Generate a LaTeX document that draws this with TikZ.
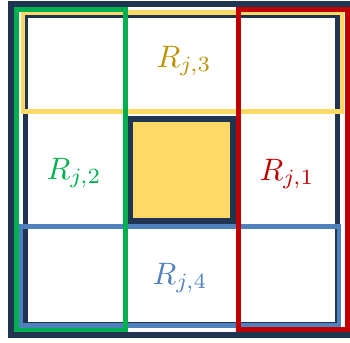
\documentclass[tikz,border=0pt]{standalone}
\usepackage{graphicx}
\definecolor{navy}{HTML}{1F3552}
\definecolor{yel}{HTML}{FFD966}
\definecolor{yeltext}{HTML}{BF9000}
\definecolor{grn}{HTML}{00B050}
\definecolor{rd}{HTML}{C00000}
\definecolor{blu}{HTML}{4F81BD}
\newcommand{\biglbl}[1]{\scalebox{3.1}{$#1$}}
\begin{document}
\begin{tikzpicture}[x=1pt,y=-1pt,
  frame/.style={line width=#1, line join=miter},
  lbl/.style={inner sep=0pt}]
\useasboundingbox (0,0) rectangle (350,342);
\fill[white] (0,0) rectangle (350,342);
% outer and inner dark frames
\draw[navy, frame=6pt] (10.5,4.5) rectangle (355,335);
\draw[navy, frame=5pt] (25.5,16) rectangle (337.5,324);
% centre square
\draw[navy, fill=yel, frame=6pt] (130,119) rectangle (233,221);
% coloured regions
\draw[yel, frame=4.5pt] (23,12.5) rectangle (342,111.5);
\draw[blu, frame=4.5pt] (21,226.5) rectangle (339,325.5);
\draw[grn, frame=4.5pt] (16.5,9.5) rectangle (125.5,330);
\draw[rd, frame=5pt] (238.5,9.5) rectangle (347.5,329);
% labels
\node[lbl, text=yeltext] (r3) at (184,61) {\biglbl{R_{j,3}}};
\node[lbl, text=grn] (r2) at (74,173) {\biglbl{R_{j,2}}};
\node[lbl, text=rd] (r1) at (287,174) {\biglbl{R_{j,1}}};
\node[lbl, text=blu] (r4) at (180,278) {\biglbl{R_{j,4}}};
\end{tikzpicture}
\end{document}
